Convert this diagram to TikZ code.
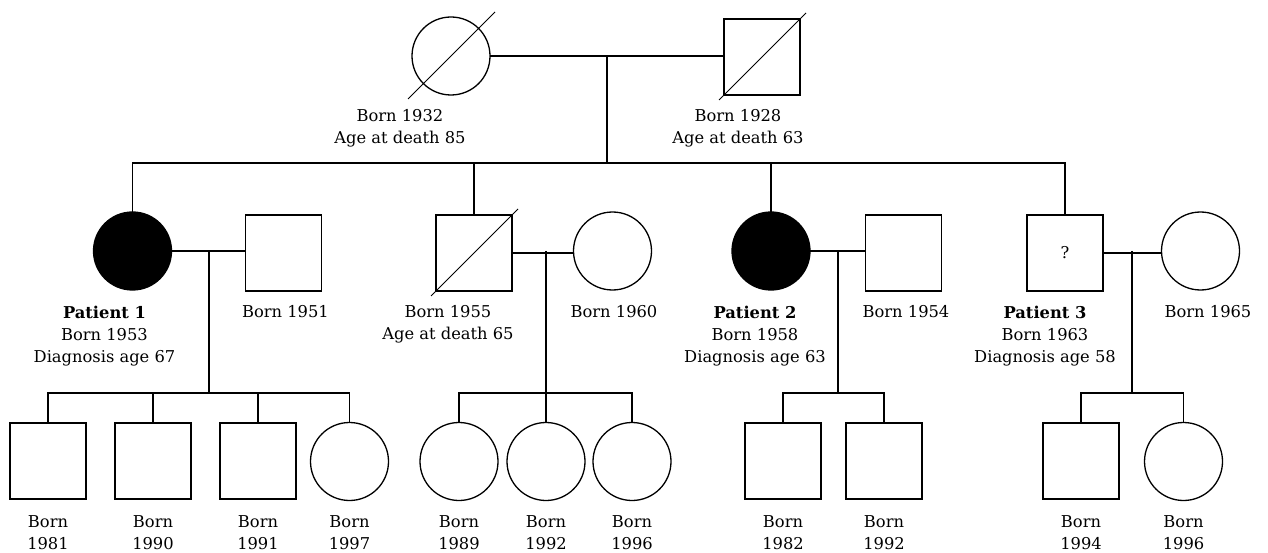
\documentclass[tikz,border=0pt]{standalone}
\usepackage{fontspec}
\setmainfont{DejaVu Serif}
\usepackage{tikz}
\tikzset{
	person/.style   = {draw, inner sep=0pt, outer sep=0pt, line width=1.3pt},
	male/.style     = {person, shape=rectangle, minimum size=76pt, line width=1.9pt},
	female/.style   = {person, shape=circle, minimum size=78pt},
	son/.style      = {male, line width=1.4pt},
	affected/.style = {fill=black},
	info/.style     = {align=center, anchor=base, inner sep=0pt},
	link/.style     = {draw, line width=1.1pt},
	slash/.style    = {draw, line width=1pt}
}
\begin{document}
\begin{tikzpicture}
[
x                 = 1pt,
y                 = -1pt,
every node/.style = {font=\fontsize{16.3}{22}\selectfont}
]
\useasboundingbox (0,0) rectangle (1268,553);
% generation I
\node [female] (gm) at (451,56) {};
\node [male]   (gf) at (762,57) {};
\draw [slash] ([shift={(-43,43)}]gm.center) -- ([shift={(44,-44)}]gm.center);
\draw [slash] ([shift={(-43,43)}]gf.center) -- ([shift={(44,-44)}]gf.center);
\node [info] (gm-info) at (400,143.5) {Born 1932\\Age at death 85};
\node [info] (gf-info) at (738,143.5) {Born 1928\\Age at death 63};
\draw [link] (gm.east) -- (gm.east -| gf.west);
\coordinate (u0) at (607,56);
\coordinate (s0) at (607,163);
% generation II
\node [female, affected] (p1) at (132.5,251) {};
\node [male]   (h1) at (283.5,253) {};
\node [male]   (s2) at (474,253) {};
\node [female] (w2) at (612.5,251) {};
\node [female, affected] (p2) at (771,251) {};
\node [male]   (h2) at (903.5,253) {};
\node [male]   (p3) at (1065,253) {?};
\node [female] (w3) at (1200.5,251) {};
\draw [slash] ([shift={(-43,43)}]s2.center) -- ([shift={(44,-44)}]s2.center);
\node [info] (p1-info) at (104.5,362) {\textbf{Patient 1}\\Born 1953\\Diagnosis age 67};
\node [info] (h1-info) at (285.5,317.5) {Born 1951};
\node [info] (s2-info) at (448,339) {Born 1955\\Age at death 65};
\node [info] (w2-info) at (614,317) {Born 1960};
\node [info] (p2-info) at (755,362) {\textbf{Patient 2}\\Born 1958\\Diagnosis age 63};
\node [info] (h2-info) at (906,317) {Born 1954};
\node [info] (p3-info) at (1045,362) {\textbf{Patient 3}\\Born 1963\\Diagnosis age 58};
\node [info] (w3-info) at (1208,317) {Born 1965};
\draw [link] (u0) -- (s0);
\draw [link] (p1.north) |- (s0) -| (p3.north);
\draw [link] (s2.north) -- (s2.north |- s0);
\draw [link] (p2.north) -- (p2.north |- s0);
\draw [link] (p1.east) -- (p1.east -| h1.west);
\draw [link] (s2.east) -- (s2.east -| w2.west);
\draw [link] (p2.east) -- (p2.east -| h2.west);
\draw [link] (p3.east) -- (p3.east -| w3.west);
\coordinate (u1) at (209,251);
\coordinate (u2) at (546,251);
\coordinate (u3) at (838,251);
\coordinate (u4) at (1132,251);
\coordinate (s1) at (209,393);
\coordinate (s2) at (546,393);
\coordinate (s3) at (838,393);
\coordinate (s4) at (1132,393);
% generation III
\node [son]    (c11) at (48,461) {};
\node [son]    (c12) at (153,461) {};
\node [son]    (c13) at (258,461) {};
\node [female] (c14) at (349.5,461.5) {};
\node [female] (c21) at (459,461.5) {};
\node [female] (c22) at (546,461.5) {};
\node [female] (c23) at (632,461.5) {};
\node [son]    (c31) at (783,461) {};
\node [son]    (c32) at (884,461) {};
\node [son]    (c41) at (1081,461) {};
\node [female] (c42) at (1183.5,461.5) {};
\draw [link] (u1) -- (s1);
\draw [link] (c11.north) |- (s1) -| (c14.north);
\draw [link] (c12.north) -- (c12.north |- s1);
\draw [link] (c13.north) -- (c13.north |- s1);
\draw [link] (u2) -- (s2);
\draw [link] (c21.north) |- (s2) -| (c23.north);
\draw [link] (c22.north) -- (c22.north |- s2);
\draw [link] (u3) -- (s3);
\draw [link] (c31.north) |- (s3) -| (c32.north);
\draw [link] (u4) -- (s4);
\draw [link] (c41.north) |- (s4) -| (c42.north);
\node [info] (c11-info) at (48,549.5) {Born\\1981};
\node [info] (c12-info) at (153,549.5) {Born\\1990};
\node [info] (c13-info) at (258,549.5) {Born\\1991};
\node [info] (c14-info) at (349.5,549.5) {Born\\1997};
\node [info] (c21-info) at (459,549.5) {Born\\1989};
\node [info] (c22-info) at (546,549.5) {Born\\1992};
\node [info] (c23-info) at (632,549.5) {Born\\1996};
\node [info] (c31-info) at (783,549.5) {Born\\1982};
\node [info] (c32-info) at (884,549.5) {Born\\1992};
\node [info] (c41-info) at (1081,549.5) {Born\\1994};
\node [info] (c42-info) at (1183.5,549.5) {Born\\1996};
\end{tikzpicture}
\end{document}
